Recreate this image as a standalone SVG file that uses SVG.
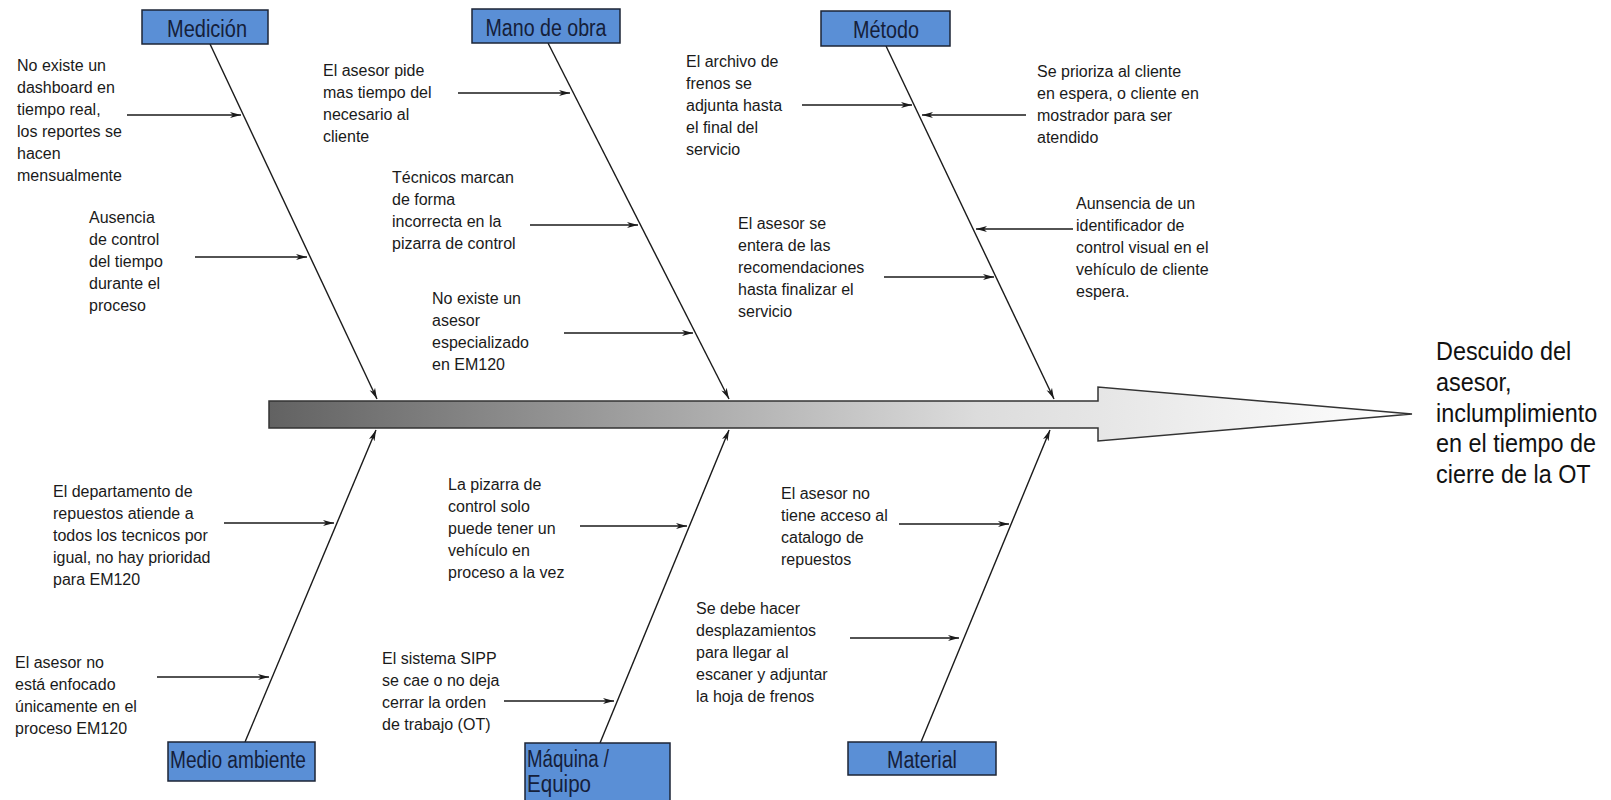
<svg xmlns="http://www.w3.org/2000/svg" width="1611" height="800" viewBox="0 0 1611 800">
<defs>
<linearGradient id="spineGrad" gradientUnits="userSpaceOnUse" x1="269" y1="0" x2="1412" y2="0">
<stop offset="0" stop-color="#626262"/>
<stop offset="0.35" stop-color="#a6a6a6"/>
<stop offset="0.62" stop-color="#dcdcdc"/>
<stop offset="1" stop-color="#ffffff"/>
</linearGradient>
<marker id="ah" markerUnits="userSpaceOnUse" markerWidth="12" markerHeight="8" refX="11" refY="4" orient="auto">
<path d="M0,1 L11,4 L0,7 L3,4 Z" fill="#1a1a1a"/>
</marker>
<style>
.t{font-family:"Liberation Sans",Arial,sans-serif;font-size:16px;fill:#1a1a1a}
.box{fill:#5a8fd6;stroke:#1c2536;stroke-width:1.5}
.bl{font-family:"Liberation Sans",Arial,sans-serif;font-size:23px;fill:#15203a}
.bone{stroke:#1a1a1a;stroke-width:1.4;fill:none;marker-end:url(#ah)}
.sub{stroke:#1a1a1a;stroke-width:1.3;fill:none;marker-end:url(#ah)}
.big{font-family:"Liberation Sans",Arial,sans-serif;font-size:26px;fill:#111}
</style>
</defs>
<rect width="1611" height="800" fill="#ffffff"/>

<g id="spine">
<polygon points="269,401 1098,401 1098,387 1412,414 1098,441 1098,428 269,428" fill="url(#spineGrad)" stroke="#333" stroke-width="1.5"/>
</g>

<g id="connectors">
<line class="bone" x1="210" y1="44" x2="377" y2="399"/>
<line class="bone" x1="548" y1="43" x2="729" y2="399"/>
<line class="bone" x1="886" y1="46" x2="1054" y2="399"/>
<line class="bone" x1="245" y1="742" x2="376" y2="430"/>
<line class="bone" x1="600" y1="743" x2="729" y2="430"/>
<line class="bone" x1="921" y1="742" x2="1050" y2="430"/>

<line class="sub" x1="127" y1="115" x2="241" y2="115"/>
<line class="sub" x1="195" y1="257" x2="307" y2="257"/>
<line class="sub" x1="458" y1="93" x2="570" y2="93"/>
<line class="sub" x1="530" y1="225" x2="638" y2="225"/>
<line class="sub" x1="564" y1="333" x2="693" y2="333"/>
<line class="sub" x1="802" y1="105" x2="912" y2="105"/>
<line class="sub" x1="1026" y1="115" x2="922" y2="115"/>
<line class="sub" x1="1073" y1="229" x2="976" y2="229"/>
<line class="sub" x1="884" y1="277" x2="994" y2="277"/>
<line class="sub" x1="224" y1="523" x2="334" y2="523"/>
<line class="sub" x1="157" y1="677" x2="269" y2="677"/>
<line class="sub" x1="580" y1="526" x2="687" y2="526"/>
<line class="sub" x1="504" y1="701" x2="614" y2="701"/>
<line class="sub" x1="899" y1="524" x2="1009" y2="524"/>
<line class="sub" x1="850" y1="638" x2="959" y2="638"/>
</g>

<g id="medicion">
<rect class="box" x="142" y="10" width="126" height="34"/>
<text class="bl" x="207" y="37" text-anchor="middle" textLength="80" lengthAdjust="spacingAndGlyphs">Medición</text>
</g>
<g id="mano-de-obra">
<rect class="box" x="472" y="9" width="148" height="34"/>
<text class="bl" x="546" y="36" text-anchor="middle" textLength="121" lengthAdjust="spacingAndGlyphs">Mano de obra</text>
</g>
<g id="metodo">
<rect class="box" x="821" y="11" width="129" height="35"/>
<text class="bl" x="886" y="38" text-anchor="middle" textLength="66" lengthAdjust="spacingAndGlyphs">Método</text>
</g>
<g id="medio-ambiente">
<rect class="box" x="168" y="742" width="147" height="39"/>
<text class="bl" x="170" y="768" textLength="136" lengthAdjust="spacingAndGlyphs">Medio ambiente</text>
</g>
<g id="maquina-equipo">
<rect class="box" x="525" y="743" width="145" height="62"/>
<text class="bl" x="527" y="767" textLength="82" lengthAdjust="spacingAndGlyphs">Máquina /</text>
<text class="bl" x="527" y="792" textLength="64" lengthAdjust="spacingAndGlyphs">Equipo</text>
</g>
<g id="material">
<rect class="box" x="848" y="742" width="148" height="33"/>
<text class="bl" x="922" y="768" text-anchor="middle" textLength="70" lengthAdjust="spacingAndGlyphs">Material</text>
</g>

<g id="efecto">
<text class="big" transform="translate(1436,0) scale(0.9,1)">
<tspan x="0" y="360">Descuido del</tspan>
<tspan x="0" y="391">asesor,</tspan>
<tspan x="0" y="422">inclumplimiento</tspan>
<tspan x="0" y="452">en el tiempo de</tspan>
<tspan x="0" y="483">cierre de la OT</tspan>
</text>
</g>

<g id="causa-medicion-1">
<text class="t"><tspan x="17" y="71">No existe un</tspan><tspan x="17" y="93">dashboard en</tspan><tspan x="17" y="115">tiempo real,</tspan><tspan x="17" y="137">los reportes se</tspan><tspan x="17" y="159">hacen</tspan><tspan x="17" y="181">mensualmente</tspan></text>
</g>
<g id="causa-medicion-2">
<text class="t"><tspan x="89" y="223">Ausencia</tspan><tspan x="89" y="245">de control</tspan><tspan x="89" y="267">del tiempo</tspan><tspan x="89" y="289">durante el</tspan><tspan x="89" y="311">proceso</tspan></text>
</g>
<g id="causa-mano-1">
<text class="t"><tspan x="323" y="76">El asesor pide</tspan><tspan x="323" y="98">mas tiempo del</tspan><tspan x="323" y="120">necesario al</tspan><tspan x="323" y="142">cliente</tspan></text>
</g>
<g id="causa-mano-2">
<text class="t"><tspan x="392" y="183">Técnicos marcan</tspan><tspan x="392" y="205">de forma</tspan><tspan x="392" y="227">incorrecta en la</tspan><tspan x="392" y="249">pizarra de control</tspan></text>
</g>
<g id="causa-mano-3">
<text class="t"><tspan x="432" y="304">No existe un</tspan><tspan x="432" y="326">asesor</tspan><tspan x="432" y="348">especializado</tspan><tspan x="432" y="370">en EM120</tspan></text>
</g>
<g id="causa-metodo-1">
<text class="t"><tspan x="686" y="67">El archivo de</tspan><tspan x="686" y="89">frenos  se</tspan><tspan x="686" y="111">adjunta hasta</tspan><tspan x="686" y="133">el final del</tspan><tspan x="686" y="155">servicio</tspan></text>
</g>
<g id="causa-metodo-2">
<text class="t"><tspan x="738" y="229">El asesor se</tspan><tspan x="738" y="251">entera de las</tspan><tspan x="738" y="273">recomendaciones</tspan><tspan x="738" y="295">hasta finalizar el</tspan><tspan x="738" y="317">servicio</tspan></text>
</g>
<g id="causa-metodo-3">
<text class="t"><tspan x="1037" y="77">Se prioriza al cliente</tspan><tspan x="1037" y="99">en espera, o cliente en</tspan><tspan x="1037" y="121">mostrador para ser</tspan><tspan x="1037" y="143">atendido</tspan></text>
</g>
<g id="causa-metodo-4">
<text class="t"><tspan x="1076" y="209">Aunsencia de un</tspan><tspan x="1076" y="231">identificador de</tspan><tspan x="1076" y="253">control visual en el</tspan><tspan x="1076" y="275">vehículo de cliente</tspan><tspan x="1076" y="297">espera.</tspan></text>
</g>
<g id="causa-ambiente-1">
<text class="t"><tspan x="53" y="497">El departamento de</tspan><tspan x="53" y="519">repuestos atiende a</tspan><tspan x="53" y="541">todos los tecnicos por</tspan><tspan x="53" y="563">igual, no hay prioridad</tspan><tspan x="53" y="585">para EM120</tspan></text>
</g>
<g id="causa-ambiente-2">
<text class="t"><tspan x="15" y="668">El asesor no</tspan><tspan x="15" y="690">está enfocado</tspan><tspan x="15" y="712">únicamente en el</tspan><tspan x="15" y="734">proceso EM120</tspan></text>
</g>
<g id="causa-maquina-1">
<text class="t"><tspan x="448" y="490">La pizarra de</tspan><tspan x="448" y="512">control solo</tspan><tspan x="448" y="534">puede tener un</tspan><tspan x="448" y="556">vehículo en</tspan><tspan x="448" y="578">proceso a la vez</tspan></text>
</g>
<g id="causa-maquina-2">
<text class="t"><tspan x="382" y="664">El sistema SIPP</tspan><tspan x="382" y="686">se cae o no deja</tspan><tspan x="382" y="708">cerrar la orden</tspan><tspan x="382" y="730">de trabajo (OT)</tspan></text>
</g>
<g id="causa-material-1">
<text class="t"><tspan x="781" y="499">El asesor no</tspan><tspan x="781" y="521">tiene acceso al</tspan><tspan x="781" y="543">catalogo de</tspan><tspan x="781" y="565">repuestos</tspan></text>
</g>
<g id="causa-material-2">
<text class="t"><tspan x="696" y="614">Se debe hacer</tspan><tspan x="696" y="636">desplazamientos</tspan><tspan x="696" y="658">para llegar al</tspan><tspan x="696" y="680">escaner y adjuntar</tspan><tspan x="696" y="702">la hoja de frenos</tspan></text>
</g>
</svg>
